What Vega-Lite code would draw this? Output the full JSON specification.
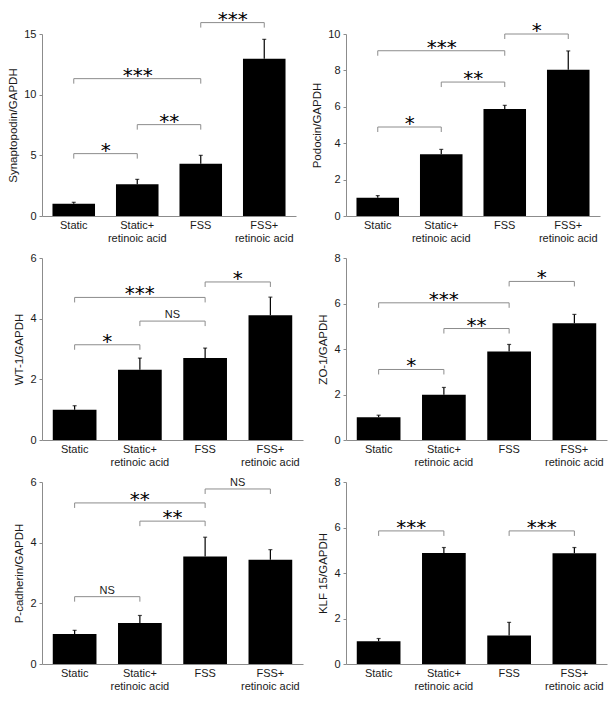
{
  "$schema": "https://vega.github.io/schema/vega-lite/v6.json",
  "background": "white",
  "padding": {"top": 9, "left": 7, "right": 5, "bottom": 5},
  "datasets": {
    "bars": [
      {"panel": "syn", "group": "Static", "mean": 1.0, "hi": 1.13},
      {"panel": "syn", "group": "Static+\nretinoic acid", "mean": 2.62, "hi": 3.02},
      {"panel": "syn", "group": "FSS", "mean": 4.31, "hi": 5.0},
      {"panel": "syn", "group": "FSS+\nretinoic acid", "mean": 12.97, "hi": 14.56},
      {"panel": "pod", "group": "Static", "mean": 1.0, "hi": 1.12},
      {"panel": "pod", "group": "Static+\nretinoic acid", "mean": 3.39, "hi": 3.66},
      {"panel": "pod", "group": "FSS", "mean": 5.88, "hi": 6.08},
      {"panel": "pod", "group": "FSS+\nretinoic acid", "mean": 8.04, "hi": 9.07},
      {"panel": "wt1", "group": "Static", "mean": 1.0, "hi": 1.13},
      {"panel": "wt1", "group": "Static+\nretinoic acid", "mean": 2.32, "hi": 2.7},
      {"panel": "wt1", "group": "FSS", "mean": 2.7, "hi": 3.03},
      {"panel": "wt1", "group": "FSS+\nretinoic acid", "mean": 4.11, "hi": 4.71},
      {"panel": "zo1", "group": "Static", "mean": 1.0, "hi": 1.09},
      {"panel": "zo1", "group": "Static+\nretinoic acid", "mean": 1.99, "hi": 2.31},
      {"panel": "zo1", "group": "FSS", "mean": 3.89, "hi": 4.2},
      {"panel": "zo1", "group": "FSS+\nretinoic acid", "mean": 5.13, "hi": 5.52},
      {"panel": "pcad", "group": "Static", "mean": 0.99, "hi": 1.11},
      {"panel": "pcad", "group": "Static+\nretinoic acid", "mean": 1.35, "hi": 1.6},
      {"panel": "pcad", "group": "FSS", "mean": 3.54, "hi": 4.18},
      {"panel": "pcad", "group": "FSS+\nretinoic acid", "mean": 3.44, "hi": 3.77},
      {"panel": "klf", "group": "Static", "mean": 1.0, "hi": 1.12},
      {"panel": "klf", "group": "Static+\nretinoic acid", "mean": 4.88, "hi": 5.12},
      {"panel": "klf", "group": "FSS", "mean": 1.25, "hi": 1.83},
      {"panel": "klf", "group": "FSS+\nretinoic acid", "mean": 4.87, "hi": 5.12}
    ],
    "brackets": [
      {"panel": "syn", "g1": "Static", "g2": "Static+\nretinoic acid", "y": 5.14, "label": "*"},
      {"panel": "syn", "g1": "Static+\nretinoic acid", "g2": "FSS", "y": 7.53, "label": "**"},
      {"panel": "syn", "g1": "Static", "g2": "FSS", "y": 11.32, "label": "***"},
      {"panel": "syn", "g1": "FSS", "g2": "FSS+\nretinoic acid", "y": 15.94, "label": "***"},
      {"panel": "pod", "g1": "Static", "g2": "Static+\nretinoic acid", "y": 4.89, "label": "*"},
      {"panel": "pod", "g1": "Static+\nretinoic acid", "g2": "FSS", "y": 7.36, "label": "**"},
      {"panel": "pod", "g1": "Static", "g2": "FSS", "y": 9.08, "label": "***"},
      {"panel": "pod", "g1": "FSS", "g2": "FSS+\nretinoic acid", "y": 10.0, "label": "*"},
      {"panel": "wt1", "g1": "Static", "g2": "Static+\nretinoic acid", "y": 3.14, "label": "*"},
      {"panel": "wt1", "g1": "Static+\nretinoic acid", "g2": "FSS", "y": 3.92, "label": "NS"},
      {"panel": "wt1", "g1": "Static", "g2": "FSS", "y": 4.7, "label": "***"},
      {"panel": "wt1", "g1": "FSS", "g2": "FSS+\nretinoic acid", "y": 5.21, "label": "*"},
      {"panel": "zo1", "g1": "Static", "g2": "Static+\nretinoic acid", "y": 3.1, "label": "*"},
      {"panel": "zo1", "g1": "Static+\nretinoic acid", "g2": "FSS", "y": 4.9, "label": "**"},
      {"panel": "zo1", "g1": "Static", "g2": "FSS", "y": 6.03, "label": "***"},
      {"panel": "zo1", "g1": "FSS", "g2": "FSS+\nretinoic acid", "y": 6.97, "label": "*"},
      {"panel": "pcad", "g1": "Static", "g2": "Static+\nretinoic acid", "y": 2.22, "label": "NS"},
      {"panel": "pcad", "g1": "Static+\nretinoic acid", "g2": "FSS", "y": 4.71, "label": "**"},
      {"panel": "pcad", "g1": "Static", "g2": "FSS", "y": 5.31, "label": "**"},
      {"panel": "pcad", "g1": "FSS", "g2": "FSS+\nretinoic acid", "y": 5.77, "label": "NS"},
      {"panel": "klf", "g1": "Static", "g2": "Static+\nretinoic acid", "y": 5.85, "label": "***"},
      {"panel": "klf", "g1": "FSS", "g2": "FSS+\nretinoic acid", "y": 5.85, "label": "***"}
    ]
  },
  "columns": 2,
  "spacing": {"row": 9, "column": 8},
  "concat": [
    {
      "width": 254, "height": 182,
      "layer": [
        {"data": {"name": "bars"}, "transform": [{"filter": "datum.panel == 'syn'"}],
         "mark": {"type": "bar", "color": "#000000"},
         "encoding": {
           "x": {"field": "group", "type": "nominal", "scale": {"domain": ["Static", "Static+\nretinoic acid", "FSS", "FSS+\nretinoic acid"], "paddingInner": 0.33, "paddingOuter": 0.165}, "axis": {"title": null, "labelExpr": "split(datum.label, '\\n')"}},
           "y": {"field": "mean", "type": "quantitative", "scale": {"domain": [0, 15], "nice": false}, "axis": {"title": "Synaptopodin/GAPDH", "values": [0, 5, 10, 15], "tickCount": 10, "format": "d", "labelOverlap": false}}}},
        {"data": {"name": "bars"}, "transform": [{"filter": "datum.panel == 'syn'"}],
         "mark": {"type": "rule", "color": "#000000", "strokeWidth": 1.2},
         "encoding": {
           "x": {"field": "group", "type": "nominal"},
           "y": {"field": "mean", "type": "quantitative"}, "y2": {"field": "hi"}}},
        {"data": {"name": "bars"}, "transform": [{"filter": "datum.panel == 'syn'"}],
         "mark": {"type": "tick", "color": "#000000", "size": 4, "thickness": 1.2, "orient": "horizontal"},
         "encoding": {
           "x": {"field": "group", "type": "nominal"},
           "y": {"field": "hi", "type": "quantitative"}}},
        {"data": {"name": "brackets"}, "transform": [{"filter": "datum.panel == 'syn'"}],
         "mark": {"type": "rule", "color": "#8c8c8c", "strokeWidth": 1},
         "encoding": {
           "x": {"field": "g1", "type": "nominal"},
           "x2": {"field": "g2"},
           "y": {"field": "y", "type": "quantitative"}}},
        {"data": {"name": "brackets"}, "transform": [{"filter": "datum.panel == 'syn'"}],
         "mark": {"type": "rule", "color": "#8c8c8c", "strokeWidth": 1, "y2Offset": 5},
         "encoding": {
           "x": {"field": "g1", "type": "nominal"},
           "y": {"field": "y", "type": "quantitative"}, "y2": {"field": "y"}}},
        {"data": {"name": "brackets"}, "transform": [{"filter": "datum.panel == 'syn'"}],
         "mark": {"type": "rule", "color": "#8c8c8c", "strokeWidth": 1, "y2Offset": 5},
         "encoding": {
           "x": {"field": "g2", "type": "nominal"},
           "y": {"field": "y", "type": "quantitative"}, "y2": {"field": "y"}}},
        {"data": {"name": "brackets"}, "transform": [{"filter": "datum.panel == 'syn' && datum.label != 'NS' && !(datum.g1 == 'Static' && datum.g2 == 'FSS')"}],
         "mark": {"type": "text", "font": "DejaVu Sans", "fontSize": 20, "dx": 32, "dy": 3, "baseline": "alphabetic", "color": "#000000"},
         "encoding": {
           "x": {"field": "g1", "type": "nominal"},
           "y": {"field": "y", "type": "quantitative"}, "text": {"field": "label"}}},
        {"data": {"name": "brackets"}, "transform": [{"filter": "datum.panel == 'syn' && datum.label != 'NS' && datum.g1 == 'Static' && datum.g2 == 'FSS'"}],
         "mark": {"type": "text", "font": "DejaVu Sans", "fontSize": 20, "dx": 64, "dy": 3, "baseline": "alphabetic", "color": "#000000"},
         "encoding": {
           "x": {"field": "g1", "type": "nominal"},
           "y": {"field": "y", "type": "quantitative"}, "text": {"field": "label"}}}
      ]
    },
    {
      "width": 254, "height": 182,
      "layer": [
        {"data": {"name": "bars"}, "transform": [{"filter": "datum.panel == 'pod'"}],
         "mark": {"type": "bar", "color": "#000000"},
         "encoding": {
           "x": {"field": "group", "type": "nominal", "scale": {"domain": ["Static", "Static+\nretinoic acid", "FSS", "FSS+\nretinoic acid"], "paddingInner": 0.33, "paddingOuter": 0.165}, "axis": {"title": null, "labelExpr": "split(datum.label, '\\n')"}},
           "y": {"field": "mean", "type": "quantitative", "scale": {"domain": [0, 10], "nice": false}, "axis": {"title": "Podocin/GAPDH", "values": [0, 2, 4, 6, 8, 10], "tickCount": 10, "format": "d", "labelOverlap": false}}}},
        {"data": {"name": "bars"}, "transform": [{"filter": "datum.panel == 'pod'"}],
         "mark": {"type": "rule", "color": "#000000", "strokeWidth": 1.2},
         "encoding": {
           "x": {"field": "group", "type": "nominal"},
           "y": {"field": "mean", "type": "quantitative"}, "y2": {"field": "hi"}}},
        {"data": {"name": "bars"}, "transform": [{"filter": "datum.panel == 'pod'"}],
         "mark": {"type": "tick", "color": "#000000", "size": 4, "thickness": 1.2, "orient": "horizontal"},
         "encoding": {
           "x": {"field": "group", "type": "nominal"},
           "y": {"field": "hi", "type": "quantitative"}}},
        {"data": {"name": "brackets"}, "transform": [{"filter": "datum.panel == 'pod'"}],
         "mark": {"type": "rule", "color": "#8c8c8c", "strokeWidth": 1},
         "encoding": {
           "x": {"field": "g1", "type": "nominal"},
           "x2": {"field": "g2"},
           "y": {"field": "y", "type": "quantitative"}}},
        {"data": {"name": "brackets"}, "transform": [{"filter": "datum.panel == 'pod'"}],
         "mark": {"type": "rule", "color": "#8c8c8c", "strokeWidth": 1, "y2Offset": 5},
         "encoding": {
           "x": {"field": "g1", "type": "nominal"},
           "y": {"field": "y", "type": "quantitative"}, "y2": {"field": "y"}}},
        {"data": {"name": "brackets"}, "transform": [{"filter": "datum.panel == 'pod'"}],
         "mark": {"type": "rule", "color": "#8c8c8c", "strokeWidth": 1, "y2Offset": 5},
         "encoding": {
           "x": {"field": "g2", "type": "nominal"},
           "y": {"field": "y", "type": "quantitative"}, "y2": {"field": "y"}}},
        {"data": {"name": "brackets"}, "transform": [{"filter": "datum.panel == 'pod' && datum.label != 'NS' && !(datum.g1 == 'Static' && datum.g2 == 'FSS')"}],
         "mark": {"type": "text", "font": "DejaVu Sans", "fontSize": 20, "dx": 32, "dy": 3, "baseline": "alphabetic", "color": "#000000"},
         "encoding": {
           "x": {"field": "g1", "type": "nominal"},
           "y": {"field": "y", "type": "quantitative"}, "text": {"field": "label"}}},
        {"data": {"name": "brackets"}, "transform": [{"filter": "datum.panel == 'pod' && datum.label != 'NS' && datum.g1 == 'Static' && datum.g2 == 'FSS'"}],
         "mark": {"type": "text", "font": "DejaVu Sans", "fontSize": 20, "dx": 64, "dy": 3, "baseline": "alphabetic", "color": "#000000"},
         "encoding": {
           "x": {"field": "g1", "type": "nominal"},
           "y": {"field": "y", "type": "quantitative"}, "text": {"field": "label"}}}
      ]
    },
    {
      "width": 261, "height": 182,
      "layer": [
        {"data": {"name": "bars"}, "transform": [{"filter": "datum.panel == 'wt1'"}],
         "mark": {"type": "bar", "color": "#000000"},
         "encoding": {
           "x": {"field": "group", "type": "nominal", "scale": {"domain": ["Static", "Static+\nretinoic acid", "FSS", "FSS+\nretinoic acid"], "paddingInner": 0.33, "paddingOuter": 0.165}, "axis": {"title": null, "labelExpr": "split(datum.label, '\\n')"}},
           "y": {"field": "mean", "type": "quantitative", "scale": {"domain": [0, 6], "nice": false}, "axis": {"title": "WT-1/GAPDH", "values": [0, 2, 4, 6], "tickCount": 10, "format": "d", "labelOverlap": false}}}},
        {"data": {"name": "bars"}, "transform": [{"filter": "datum.panel == 'wt1'"}],
         "mark": {"type": "rule", "color": "#000000", "strokeWidth": 1.2},
         "encoding": {
           "x": {"field": "group", "type": "nominal"},
           "y": {"field": "mean", "type": "quantitative"}, "y2": {"field": "hi"}}},
        {"data": {"name": "bars"}, "transform": [{"filter": "datum.panel == 'wt1'"}],
         "mark": {"type": "tick", "color": "#000000", "size": 4, "thickness": 1.2, "orient": "horizontal"},
         "encoding": {
           "x": {"field": "group", "type": "nominal"},
           "y": {"field": "hi", "type": "quantitative"}}},
        {"data": {"name": "brackets"}, "transform": [{"filter": "datum.panel == 'wt1'"}],
         "mark": {"type": "rule", "color": "#8c8c8c", "strokeWidth": 1},
         "encoding": {
           "x": {"field": "g1", "type": "nominal"},
           "x2": {"field": "g2"},
           "y": {"field": "y", "type": "quantitative"}}},
        {"data": {"name": "brackets"}, "transform": [{"filter": "datum.panel == 'wt1'"}],
         "mark": {"type": "rule", "color": "#8c8c8c", "strokeWidth": 1, "y2Offset": 5},
         "encoding": {
           "x": {"field": "g1", "type": "nominal"},
           "y": {"field": "y", "type": "quantitative"}, "y2": {"field": "y"}}},
        {"data": {"name": "brackets"}, "transform": [{"filter": "datum.panel == 'wt1'"}],
         "mark": {"type": "rule", "color": "#8c8c8c", "strokeWidth": 1, "y2Offset": 5},
         "encoding": {
           "x": {"field": "g2", "type": "nominal"},
           "y": {"field": "y", "type": "quantitative"}, "y2": {"field": "y"}}},
        {"data": {"name": "brackets"}, "transform": [{"filter": "datum.panel == 'wt1' && datum.label != 'NS' && !(datum.g1 == 'Static' && datum.g2 == 'FSS')"}],
         "mark": {"type": "text", "font": "DejaVu Sans", "fontSize": 20, "dx": 32.5, "dy": 3, "baseline": "alphabetic", "color": "#000000"},
         "encoding": {
           "x": {"field": "g1", "type": "nominal"},
           "y": {"field": "y", "type": "quantitative"}, "text": {"field": "label"}}},
        {"data": {"name": "brackets"}, "transform": [{"filter": "datum.panel == 'wt1' && datum.label != 'NS' && datum.g1 == 'Static' && datum.g2 == 'FSS'"}],
         "mark": {"type": "text", "font": "DejaVu Sans", "fontSize": 20, "dx": 65, "dy": 3, "baseline": "alphabetic", "color": "#000000"},
         "encoding": {
           "x": {"field": "g1", "type": "nominal"},
           "y": {"field": "y", "type": "quantitative"}, "text": {"field": "label"}}},
        {"data": {"name": "brackets"}, "transform": [{"filter": "datum.panel == 'wt1' && datum.label == 'NS'"}],
         "mark": {"type": "text", "font": "Liberation Sans", "fontSize": 11, "dx": 32.5, "dy": -3, "baseline": "alphabetic", "color": "#1a1a1a"},
         "encoding": {
           "x": {"field": "g1", "type": "nominal"},
           "y": {"field": "y", "type": "quantitative"}, "text": {"field": "label"}}}
      ]
    },
    {
      "width": 261, "height": 182,
      "layer": [
        {"data": {"name": "bars"}, "transform": [{"filter": "datum.panel == 'zo1'"}],
         "mark": {"type": "bar", "color": "#000000"},
         "encoding": {
           "x": {"field": "group", "type": "nominal", "scale": {"domain": ["Static", "Static+\nretinoic acid", "FSS", "FSS+\nretinoic acid"], "paddingInner": 0.33, "paddingOuter": 0.165}, "axis": {"title": null, "labelExpr": "split(datum.label, '\\n')"}},
           "y": {"field": "mean", "type": "quantitative", "scale": {"domain": [0, 8], "nice": false}, "axis": {"title": "ZO-1/GAPDH", "values": [0, 2, 4, 6, 8], "tickCount": 10, "format": "d", "labelOverlap": false}}}},
        {"data": {"name": "bars"}, "transform": [{"filter": "datum.panel == 'zo1'"}],
         "mark": {"type": "rule", "color": "#000000", "strokeWidth": 1.2},
         "encoding": {
           "x": {"field": "group", "type": "nominal"},
           "y": {"field": "mean", "type": "quantitative"}, "y2": {"field": "hi"}}},
        {"data": {"name": "bars"}, "transform": [{"filter": "datum.panel == 'zo1'"}],
         "mark": {"type": "tick", "color": "#000000", "size": 4, "thickness": 1.2, "orient": "horizontal"},
         "encoding": {
           "x": {"field": "group", "type": "nominal"},
           "y": {"field": "hi", "type": "quantitative"}}},
        {"data": {"name": "brackets"}, "transform": [{"filter": "datum.panel == 'zo1'"}],
         "mark": {"type": "rule", "color": "#8c8c8c", "strokeWidth": 1},
         "encoding": {
           "x": {"field": "g1", "type": "nominal"},
           "x2": {"field": "g2"},
           "y": {"field": "y", "type": "quantitative"}}},
        {"data": {"name": "brackets"}, "transform": [{"filter": "datum.panel == 'zo1'"}],
         "mark": {"type": "rule", "color": "#8c8c8c", "strokeWidth": 1, "y2Offset": 5},
         "encoding": {
           "x": {"field": "g1", "type": "nominal"},
           "y": {"field": "y", "type": "quantitative"}, "y2": {"field": "y"}}},
        {"data": {"name": "brackets"}, "transform": [{"filter": "datum.panel == 'zo1'"}],
         "mark": {"type": "rule", "color": "#8c8c8c", "strokeWidth": 1, "y2Offset": 5},
         "encoding": {
           "x": {"field": "g2", "type": "nominal"},
           "y": {"field": "y", "type": "quantitative"}, "y2": {"field": "y"}}},
        {"data": {"name": "brackets"}, "transform": [{"filter": "datum.panel == 'zo1' && datum.label != 'NS' && !(datum.g1 == 'Static' && datum.g2 == 'FSS')"}],
         "mark": {"type": "text", "font": "DejaVu Sans", "fontSize": 20, "dx": 32.5, "dy": 3, "baseline": "alphabetic", "color": "#000000"},
         "encoding": {
           "x": {"field": "g1", "type": "nominal"},
           "y": {"field": "y", "type": "quantitative"}, "text": {"field": "label"}}},
        {"data": {"name": "brackets"}, "transform": [{"filter": "datum.panel == 'zo1' && datum.label != 'NS' && datum.g1 == 'Static' && datum.g2 == 'FSS'"}],
         "mark": {"type": "text", "font": "DejaVu Sans", "fontSize": 20, "dx": 65, "dy": 3, "baseline": "alphabetic", "color": "#000000"},
         "encoding": {
           "x": {"field": "g1", "type": "nominal"},
           "y": {"field": "y", "type": "quantitative"}, "text": {"field": "label"}}}
      ]
    },
    {
      "width": 261, "height": 182,
      "layer": [
        {"data": {"name": "bars"}, "transform": [{"filter": "datum.panel == 'pcad'"}],
         "mark": {"type": "bar", "color": "#000000"},
         "encoding": {
           "x": {"field": "group", "type": "nominal", "scale": {"domain": ["Static", "Static+\nretinoic acid", "FSS", "FSS+\nretinoic acid"], "paddingInner": 0.33, "paddingOuter": 0.165}, "axis": {"title": null, "labelExpr": "split(datum.label, '\\n')"}},
           "y": {"field": "mean", "type": "quantitative", "scale": {"domain": [0, 6], "nice": false}, "axis": {"title": "P-cadherin/GAPDH", "values": [0, 2, 4, 6], "tickCount": 10, "format": "d", "labelOverlap": false}}}},
        {"data": {"name": "bars"}, "transform": [{"filter": "datum.panel == 'pcad'"}],
         "mark": {"type": "rule", "color": "#000000", "strokeWidth": 1.2},
         "encoding": {
           "x": {"field": "group", "type": "nominal"},
           "y": {"field": "mean", "type": "quantitative"}, "y2": {"field": "hi"}}},
        {"data": {"name": "bars"}, "transform": [{"filter": "datum.panel == 'pcad'"}],
         "mark": {"type": "tick", "color": "#000000", "size": 4, "thickness": 1.2, "orient": "horizontal"},
         "encoding": {
           "x": {"field": "group", "type": "nominal"},
           "y": {"field": "hi", "type": "quantitative"}}},
        {"data": {"name": "brackets"}, "transform": [{"filter": "datum.panel == 'pcad'"}],
         "mark": {"type": "rule", "color": "#8c8c8c", "strokeWidth": 1},
         "encoding": {
           "x": {"field": "g1", "type": "nominal"},
           "x2": {"field": "g2"},
           "y": {"field": "y", "type": "quantitative"}}},
        {"data": {"name": "brackets"}, "transform": [{"filter": "datum.panel == 'pcad'"}],
         "mark": {"type": "rule", "color": "#8c8c8c", "strokeWidth": 1, "y2Offset": 5},
         "encoding": {
           "x": {"field": "g1", "type": "nominal"},
           "y": {"field": "y", "type": "quantitative"}, "y2": {"field": "y"}}},
        {"data": {"name": "brackets"}, "transform": [{"filter": "datum.panel == 'pcad'"}],
         "mark": {"type": "rule", "color": "#8c8c8c", "strokeWidth": 1, "y2Offset": 5},
         "encoding": {
           "x": {"field": "g2", "type": "nominal"},
           "y": {"field": "y", "type": "quantitative"}, "y2": {"field": "y"}}},
        {"data": {"name": "brackets"}, "transform": [{"filter": "datum.panel == 'pcad' && datum.label != 'NS' && !(datum.g1 == 'Static' && datum.g2 == 'FSS')"}],
         "mark": {"type": "text", "font": "DejaVu Sans", "fontSize": 20, "dx": 32.5, "dy": 3, "baseline": "alphabetic", "color": "#000000"},
         "encoding": {
           "x": {"field": "g1", "type": "nominal"},
           "y": {"field": "y", "type": "quantitative"}, "text": {"field": "label"}}},
        {"data": {"name": "brackets"}, "transform": [{"filter": "datum.panel == 'pcad' && datum.label != 'NS' && datum.g1 == 'Static' && datum.g2 == 'FSS'"}],
         "mark": {"type": "text", "font": "DejaVu Sans", "fontSize": 20, "dx": 65, "dy": 3, "baseline": "alphabetic", "color": "#000000"},
         "encoding": {
           "x": {"field": "g1", "type": "nominal"},
           "y": {"field": "y", "type": "quantitative"}, "text": {"field": "label"}}},
        {"data": {"name": "brackets"}, "transform": [{"filter": "datum.panel == 'pcad' && datum.label == 'NS'"}],
         "mark": {"type": "text", "font": "Liberation Sans", "fontSize": 11, "dx": 32.5, "dy": -3, "baseline": "alphabetic", "color": "#1a1a1a"},
         "encoding": {
           "x": {"field": "g1", "type": "nominal"},
           "y": {"field": "y", "type": "quantitative"}, "text": {"field": "label"}}}
      ]
    },
    {
      "width": 261, "height": 182,
      "layer": [
        {"data": {"name": "bars"}, "transform": [{"filter": "datum.panel == 'klf'"}],
         "mark": {"type": "bar", "color": "#000000"},
         "encoding": {
           "x": {"field": "group", "type": "nominal", "scale": {"domain": ["Static", "Static+\nretinoic acid", "FSS", "FSS+\nretinoic acid"], "paddingInner": 0.33, "paddingOuter": 0.165}, "axis": {"title": null, "labelExpr": "split(datum.label, '\\n')"}},
           "y": {"field": "mean", "type": "quantitative", "scale": {"domain": [0, 8], "nice": false}, "axis": {"title": "KLF 15/GAPDH", "values": [0, 2, 4, 6, 8], "tickCount": 10, "format": "d", "labelOverlap": false}}}},
        {"data": {"name": "bars"}, "transform": [{"filter": "datum.panel == 'klf'"}],
         "mark": {"type": "rule", "color": "#000000", "strokeWidth": 1.2},
         "encoding": {
           "x": {"field": "group", "type": "nominal"},
           "y": {"field": "mean", "type": "quantitative"}, "y2": {"field": "hi"}}},
        {"data": {"name": "bars"}, "transform": [{"filter": "datum.panel == 'klf'"}],
         "mark": {"type": "tick", "color": "#000000", "size": 4, "thickness": 1.2, "orient": "horizontal"},
         "encoding": {
           "x": {"field": "group", "type": "nominal"},
           "y": {"field": "hi", "type": "quantitative"}}},
        {"data": {"name": "brackets"}, "transform": [{"filter": "datum.panel == 'klf'"}],
         "mark": {"type": "rule", "color": "#8c8c8c", "strokeWidth": 1},
         "encoding": {
           "x": {"field": "g1", "type": "nominal"},
           "x2": {"field": "g2"},
           "y": {"field": "y", "type": "quantitative"}}},
        {"data": {"name": "brackets"}, "transform": [{"filter": "datum.panel == 'klf'"}],
         "mark": {"type": "rule", "color": "#8c8c8c", "strokeWidth": 1, "y2Offset": 5},
         "encoding": {
           "x": {"field": "g1", "type": "nominal"},
           "y": {"field": "y", "type": "quantitative"}, "y2": {"field": "y"}}},
        {"data": {"name": "brackets"}, "transform": [{"filter": "datum.panel == 'klf'"}],
         "mark": {"type": "rule", "color": "#8c8c8c", "strokeWidth": 1, "y2Offset": 5},
         "encoding": {
           "x": {"field": "g2", "type": "nominal"},
           "y": {"field": "y", "type": "quantitative"}, "y2": {"field": "y"}}},
        {"data": {"name": "brackets"}, "transform": [{"filter": "datum.panel == 'klf'"}],
         "mark": {"type": "text", "font": "DejaVu Sans", "fontSize": 20, "dx": 32.5, "dy": 3, "baseline": "alphabetic", "color": "#000000"},
         "encoding": {
           "x": {"field": "g1", "type": "nominal"},
           "y": {"field": "y", "type": "quantitative"}, "text": {"field": "label"}}}
      ]
    }
  ],
  "config": {
    "view": {"stroke": null},
    "axis": {
      "grid": false,
      "domainColor": "#8c8c8c",
      "tickColor": "#8c8c8c",
      "labelFont": "Liberation Sans",
      "labelFontSize": 11,
      "labelColor": "#1a1a1a",
      "titleFont": "Liberation Sans",
      "titleFontSize": 11.5,
      "titleFontWeight": "normal",
      "titleColor": "#1a1a1a"
    },
    "axisX": {"ticks": false, "labelAngle": 0, "labelPadding": 3, "labelLineHeight": 13},
    "axisY": {"tickSize": 3, "labelPadding": 3, "titlePadding": 5, "labelOverlap": false, "labelFlush": false}
  }
}
